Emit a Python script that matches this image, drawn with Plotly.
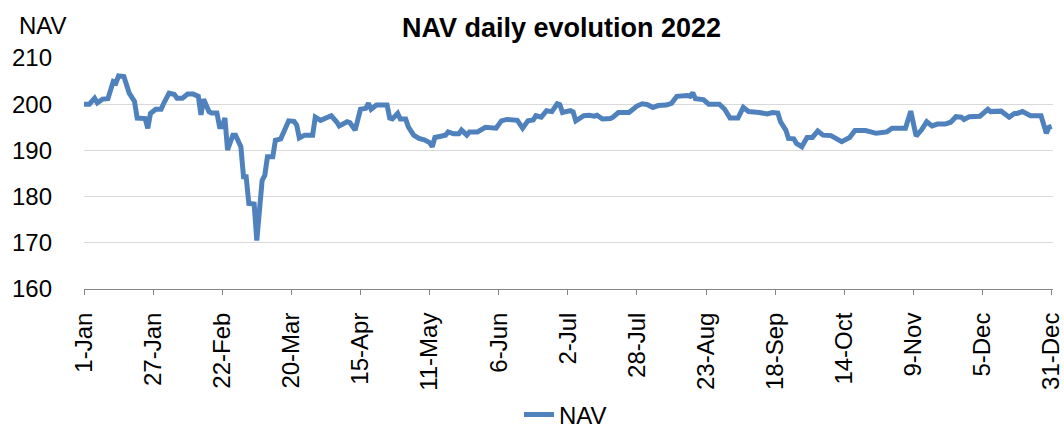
import plotly.graph_objects as go

dates = [
    "2022-01-01", "2022-01-03", "2022-01-05", "2022-01-06", "2022-01-08", "2022-01-10",
    "2022-01-12", "2022-01-13", "2022-01-14", "2022-01-16", "2022-01-18", "2022-01-20",
    "2022-01-21", "2022-01-24", "2022-01-25", "2022-01-26", "2022-01-28", "2022-01-30",
    "2022-01-31", "2022-02-02", "2022-02-04", "2022-02-05", "2022-02-07", "2022-02-09",
    "2022-02-11", "2022-02-12", "2022-02-13", "2022-02-14", "2022-02-15", "2022-02-17",
    "2022-02-18", "2022-02-20", "2022-02-21", "2022-02-22", "2022-02-23", "2022-02-24",
    "2022-02-26", "2022-02-27", "2022-03-01", "2022-03-02", "2022-03-03", "2022-03-04",
    "2022-03-06", "2022-03-07", "2022-03-09", "2022-03-10", "2022-03-11", "2022-03-13",
    "2022-03-14", "2022-03-16", "2022-03-17", "2022-03-19", "2022-03-21", "2022-03-22",
    "2022-03-23", "2022-03-25", "2022-03-28", "2022-03-29", "2022-03-31", "2022-04-02",
    "2022-04-04", "2022-04-06", "2022-04-07", "2022-04-10", "2022-04-11", "2022-04-13",
    "2022-04-15", "2022-04-17", "2022-04-18", "2022-04-19", "2022-04-21", "2022-04-25",
    "2022-04-26", "2022-04-27", "2022-04-29", "2022-04-30", "2022-05-02", "2022-05-03",
    "2022-05-05", "2022-05-07", "2022-05-09", "2022-05-11", "2022-05-12", "2022-05-13",
    "2022-05-15", "2022-05-17", "2022-05-18", "2022-05-20", "2022-05-22", "2022-05-23",
    "2022-05-25", "2022-05-26", "2022-05-29", "2022-06-01", "2022-06-05", "2022-06-07",
    "2022-06-09", "2022-06-13", "2022-06-15", "2022-06-17", "2022-06-19", "2022-06-20",
    "2022-06-22", "2022-06-24", "2022-06-26", "2022-06-28", "2022-06-29", "2022-06-30",
    "2022-07-03", "2022-07-04", "2022-07-05", "2022-07-08", "2022-07-10", "2022-07-12",
    "2022-07-13", "2022-07-15", "2022-07-18", "2022-07-19", "2022-07-21", "2022-07-25",
    "2022-07-28", "2022-07-30", "2022-08-01", "2022-08-03", "2022-08-05", "2022-08-08",
    "2022-08-10", "2022-08-12", "2022-08-16", "2022-08-17", "2022-08-18", "2022-08-19",
    "2022-08-22", "2022-08-24", "2022-08-28", "2022-08-30", "2022-09-01", "2022-09-04",
    "2022-09-06", "2022-09-08", "2022-09-12", "2022-09-15", "2022-09-17", "2022-09-19",
    "2022-09-20", "2022-09-22", "2022-09-23", "2022-09-25", "2022-09-26", "2022-09-28",
    "2022-09-30", "2022-10-02", "2022-10-04", "2022-10-06", "2022-10-09", "2022-10-13",
    "2022-10-16", "2022-10-18", "2022-10-22", "2022-10-26", "2022-10-30", "2022-11-01",
    "2022-11-06", "2022-11-08", "2022-11-10", "2022-11-12", "2022-11-14", "2022-11-16",
    "2022-11-18", "2022-11-21", "2022-11-23", "2022-11-25", "2022-11-27", "2022-11-28",
    "2022-11-30", "2022-12-04", "2022-12-07", "2022-12-08", "2022-12-12", "2022-12-15",
    "2022-12-17", "2022-12-18", "2022-12-20", "2022-12-23", "2022-12-27", "2022-12-29",
    "2022-12-30", "2022-12-31",
]

nav = [
    200.0, 200.0, 201.3, 200.3, 201.1, 201.2,
    204.9, 204.6, 206.1, 206.0, 202.4, 200.6,
    197.0, 196.9, 194.8, 198.0, 198.9, 198.9,
    200.2, 202.4, 202.1, 201.3, 201.3, 202.2,
    202.2, 202.0, 201.7, 197.7, 201.1, 198.4,
    198.1, 198.1, 195.1, 195.1, 197.0, 190.1,
    193.3, 193.3, 190.8, 184.3, 184.3, 178.5,
    178.4, 170.5, 183.5, 184.6, 188.6, 188.6,
    192.2, 192.5, 194.0, 196.4, 196.3, 195.5,
    192.7, 193.3, 193.3, 197.2, 196.5, 197.0,
    197.5, 196.2, 195.3, 196.2, 196.0, 194.4,
    198.9, 199.1, 200.2, 198.9, 199.8, 199.8,
    197.0, 196.8, 198.0, 196.8, 196.8, 195.1,
    193.3, 192.6, 192.3, 191.7, 190.8, 192.8,
    193.1, 193.3, 194.0, 193.6, 193.6, 194.4,
    193.3, 194.0, 194.0, 195.0, 194.8, 196.4,
    196.7, 196.5, 194.8, 196.4, 196.6, 197.5,
    197.2, 198.6, 198.4, 200.1, 199.9, 198.2,
    198.6, 198.3, 196.4, 197.5, 197.6, 197.4,
    197.6, 196.8, 196.9, 197.2, 198.2, 198.2,
    199.6, 200.1, 199.9, 199.3, 199.7, 199.8,
    200.2, 201.7, 201.9, 201.7, 202.5, 201.2,
    201.0, 200.0, 200.0, 198.9, 197.0, 197.0,
    199.3, 198.4, 198.2, 197.9, 198.2, 198.1,
    196.2, 194.4, 192.6, 192.5, 191.5, 190.8,
    192.8, 192.8, 194.2, 193.3, 193.2, 191.9,
    192.8, 194.3, 194.3, 193.7, 194.0, 194.8,
    194.8, 198.5, 193.1, 194.4, 196.2, 195.3,
    195.7, 195.7, 196.1, 197.3, 197.2, 196.7,
    197.3, 197.4, 198.9, 198.4, 198.5, 197.2,
    198.0, 198.0, 198.4, 197.5, 197.5, 193.7,
    195.0, 195.2,
]

tick_dates = [
    "2022-01-01", "2022-01-27", "2022-02-22", "2022-03-20", "2022-04-15",
    "2022-05-11", "2022-06-06", "2022-07-02", "2022-07-28", "2022-08-23",
    "2022-09-18", "2022-10-14", "2022-11-09", "2022-12-05", "2022-12-31",
]
tick_labels = [
    "1-Jan", "27-Jan", "22-Feb", "20-Mar", "15-Apr", "11-May", "6-Jun", "2-Jul",
    "28-Jul", "23-Aug", "18-Sep", "14-Oct", "9-Nov", "5-Dec", "31-Dec",
]
y_ticks = [160, 170, 180, 190, 200, 210]

FONT = "Liberation Sans"
BLUE = "#4F81BD"

fig = go.Figure()
fig.add_trace(go.Scatter(
    x=dates, y=nav, mode="lines", name="NAV",
    line=dict(color=BLUE, width=5),
))

W, H = 1064, 430
L, R, T, B = 84, 11, 58, 141
pw = W - L - R
ph = H - T - B

fig.update_layout(
    width=W, height=H,
    margin=dict(l=L, r=R, t=T, b=B, autoexpand=False),
    paper_bgcolor="white", plot_bgcolor="white",
    font=dict(family=FONT, size=24, color="black"),
    title=dict(
        text="<b>NAV daily evolution 2022</b>",
        font=dict(family=FONT, size=27, color="black"),
        x=(561.5 - L) / pw, xref="paper", xanchor="center",
        y=1 - 28 / H, yref="container", yanchor="middle",
    ),
    showlegend=True,
    legend=dict(
        orientation="h",
        x=(519 - L) / pw, xanchor="left",
        y=(T + ph - 415) / ph, yanchor="middle",
        font=dict(family=FONT, size=24, color="black"),
        bgcolor="rgba(0,0,0,0)",
    ),
    annotations=[dict(
        text="NAV", xref="paper", yref="paper",
        x=(17 - L) / pw, xanchor="left",
        y=(T + ph - 25) / ph, yanchor="middle",
        showarrow=False, font=dict(family=FONT, size=24, color="black"),
    )],
)

fig.update_xaxes(
    type="date",
    range=["2022-01-01", "2022-12-31 12:00"],
    tickvals=tick_dates, ticktext=tick_labels,
    tickangle=-90,
    ticks="outside", ticklen=5, tickcolor="#868686", tickwidth=1,
    showline=True, linecolor="#868686", linewidth=1,
    showgrid=False, zeroline=False,
    tickfont=dict(family=FONT, size=24, color="black"),
    ticklabelstandoff=8,
    ticklabeloverflow="allow",
    automargin=False,
)
fig.update_yaxes(
    range=[160, 210],
    tickvals=y_ticks,
    showgrid=True, gridcolor="#D9D9D9", gridwidth=1,
    showline=False, zeroline=False, ticks="",
    tickfont=dict(family=FONT, size=24, color="black"),
    ticklabelstandoff=31,
    automargin=False,
)

fig.write_html(
    "out.html",
    config={"displayModeBar": False},
    post_script="document.body.style.margin='0';document.body.style.overflow='hidden';",
)
